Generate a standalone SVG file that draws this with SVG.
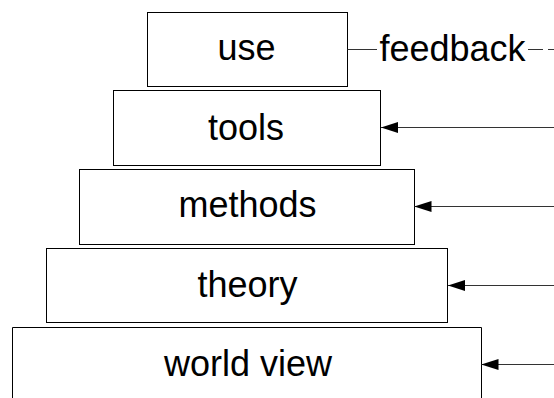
<svg xmlns="http://www.w3.org/2000/svg" width="554" height="398" viewBox="0 0 554 398">
  <style>
    .box { fill: #ffffff; stroke: #000000; stroke-width: 1; }
    .label { font-family: "Liberation Sans", Arial, sans-serif; font-size: 36px; fill: #000000; text-anchor: middle; }
    .link { stroke: #333333; stroke-width: 1; fill: none; }
  </style>
  <defs>
    <marker id="arrow" markerWidth="17" markerHeight="11" refX="17" refY="5.5" orient="auto" markerUnits="userSpaceOnUse">
      <path d="M0,0 L17,5.5 L0,11 Z" fill="#000000"/>
    </marker>
  </defs>
  <rect width="554" height="398" fill="#ffffff"/>

  <g id="world-view">
    <path class="box" d="M12.5,398 V327.5 H481.5 V398"/>
    <text class="label" x="248" y="376">world view</text>
  </g>
  <g id="theory">
    <rect class="box" x="46.5" y="248.5" width="401" height="74"/>
    <text class="label" x="247.5" y="296.5">theory</text>
  </g>
  <g id="methods">
    <rect class="box" x="79.5" y="169.5" width="335" height="75"/>
    <text class="label" x="247.5" y="216.5">methods</text>
  </g>
  <g id="tools">
    <rect class="box" x="113.5" y="90.5" width="267" height="75"/>
    <text class="label" x="246" y="140">tools</text>
  </g>
  <g id="use">
    <rect class="box" x="147.5" y="12.5" width="200" height="74"/>
    <text class="label" x="246.5" y="60">use</text>
  </g>

  <g id="connectors">
    <line class="link" x1="347.5" y1="49.5" x2="377" y2="49.5"/>
    <text class="label" x="452.5" y="61">feedback</text>
    <line class="link" x1="528" y1="49.5" x2="554" y2="49.5" stroke-dasharray="15 5"/>
    <line class="link" x1="554" y1="127.5" x2="381" y2="127.5" marker-end="url(#arrow)"/>
    <line class="link" x1="554" y1="206.5" x2="414.5" y2="206.5" marker-end="url(#arrow)"/>
    <line class="link" x1="554" y1="285.5" x2="448" y2="285.5" marker-end="url(#arrow)"/>
    <line class="link" x1="554" y1="364.5" x2="481.5" y2="364.5" marker-end="url(#arrow)"/>
  </g>
</svg>
